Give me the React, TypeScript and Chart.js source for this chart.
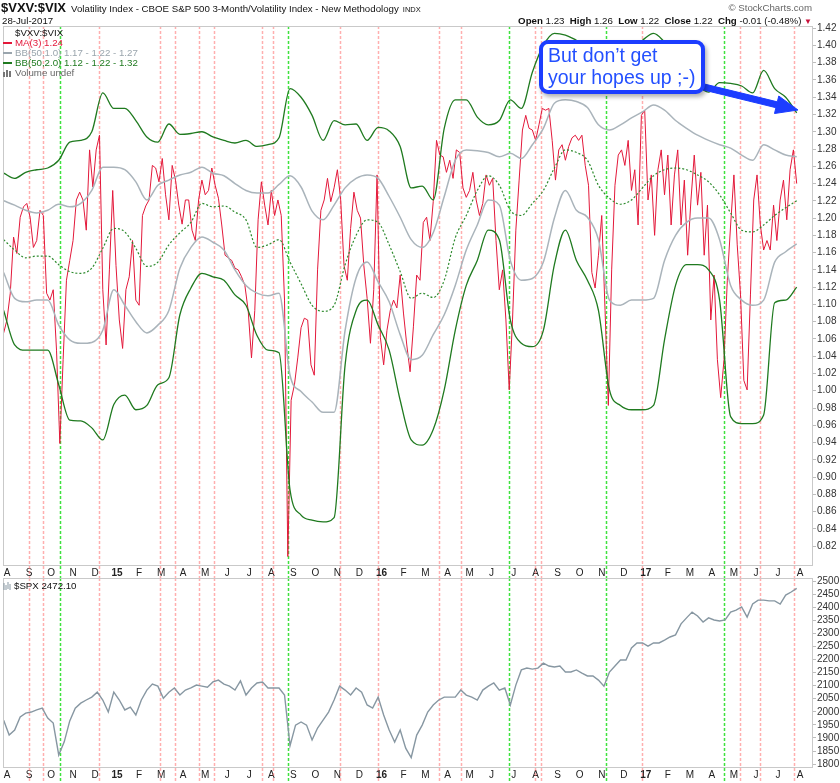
import React, { useEffect, useRef } from "react";
import { Chart, registerables } from "chart.js";
Chart.register(...registerables);

const FONT = "'Liberation Sans', Arial, sans-serif";

// Month tick labels, one per month from Aug 2014 to Aug 2017
const monthLabels = ["A","S","O","N","D","15","F","M","A","M","J","J","A","S","O","N","D","16","F","M","A","M","J","J","A","S","O","N","D","17","F","M","A","M","J","J","A"];
const vxvTicks = [0.82,0.84,0.86,0.88,0.90,0.92,0.94,0.96,0.98,1.00,1.02,1.04,1.06,1.08,1.10,1.12,1.14,1.16,1.18,1.20,1.22,1.24,1.26,1.28,1.30,1.32,1.34,1.36,1.38,1.40,1.42];
const spxTicks = [1800,1850,1900,1950,2000,2050,2100,2150,2200,2250,2300,2350,2400,2450,2500];

// Signal dates (vertical dashed markers)
const redSignalDates = ["2014-09-01","2014-09-20","2014-12-06","2015-02-28","2015-03-21","2015-04-22","2015-05-13","2015-07-19","2015-08-03","2015-11-05","2015-12-27","2016-03-20","2016-04-19","2016-07-31","2016-08-09","2016-12-26","2017-05-10","2017-06-07","2017-07-23"];
const greenSignalDates = ["2014-10-14","2015-08-24","2016-06-25","2016-11-07","2017-04-17"];

// Sampling: first sample ~ 28-Jul-2014 (in months after 1-Aug-2014)
const firstSampleMonth = -0.15;
const maStep = 0.15;
const spxStep = 0.25;
const bandStep = 0.5;

const vxvMa3 = [
1.067,1.082,1.113,1.178,1.159,1.201,1.213,1.217,1.201,1.166,
1.174,1.209,1.203,1.113,1.105,1.117,1.047,0.939,1.036,1.128,
1.151,1.174,1.221,1.230,1.221,1.186,1.279,1.236,1.279,1.296,
1.117,1.053,1.140,1.232,1.145,1.082,1.049,1.117,1.132,1.174,
1.105,1.099,1.203,1.214,1.221,1.261,1.258,1.242,1.269,1.227,
1.198,1.261,1.244,1.215,1.193,1.221,1.221,1.186,1.174,1.221,
1.244,1.227,1.232,1.258,1.238,1.223,1.192,1.157,1.154,1.151,
1.142,1.140,1.132,1.122,1.093,1.038,1.093,1.198,1.242,1.215,
1.192,1.232,1.203,1.221,1.203,1.105,0.808,0.989,1.007,1.038,
1.073,1.084,1.082,1.030,1.018,1.140,1.209,1.221,1.246,1.219,
1.235,1.256,1.221,1.145,1.128,1.188,1.230,1.209,1.200,1.145,
1.107,1.055,1.117,1.250,1.062,1.030,1.070,1.093,1.105,1.096,
1.134,1.090,1.053,1.022,1.074,1.134,1.128,1.195,1.201,1.174,
1.219,1.290,1.273,1.271,1.253,1.267,1.246,1.279,1.276,1.235,
1.224,1.232,1.253,1.221,1.203,1.217,1.250,1.238,1.246,1.174,
1.117,1.140,1.082,1.001,1.082,1.186,1.244,1.302,1.319,1.304,
1.302,1.290,1.308,1.327,1.325,1.327,1.290,1.244,1.279,1.285,
1.267,1.283,1.293,1.296,1.290,1.296,1.261,1.238,1.137,1.119,
1.157,1.203,1.093,0.983,1.140,1.238,1.273,1.279,1.261,1.290,
1.232,1.256,1.192,1.319,1.325,1.221,1.250,1.180,1.256,1.279,
1.227,1.273,1.192,1.250,1.279,1.192,1.244,1.157,1.221,1.273,
1.215,1.253,1.157,1.215,1.082,1.134,1.036,0.992,1.036,1.128,
1.192,1.250,1.169,1.111,1.012,1.001,1.111,1.221,1.250,1.192,
1.163,1.174,1.163,1.215,1.174,1.221,1.244,1.198,1.256,1.279,
1.240];

const bbUpper2 = [
1.252,1.246,1.253,1.256,1.258,1.267,1.288,1.290,1.300,1.345,
1.327,1.327,1.313,1.294,1.288,1.309,1.297,1.298,1.300,1.294,
1.290,1.287,1.290,1.283,1.285,1.293,1.350,1.340,1.319,1.290,
1.313,1.308,1.309,1.290,1.305,1.301,1.283,1.235,1.237,1.221,
1.304,1.337,1.337,1.317,1.308,1.313,1.337,1.327,1.369,1.400,
1.414,1.412,1.406,1.400,1.395,1.383,1.389,1.397,1.406,1.414,
1.404,1.389,1.371,1.354,1.346,1.357,1.356,1.353,1.345,1.371,
1.350,1.340,1.322];

const bbUpper1 = [
1.220,1.215,1.209,1.206,1.209,1.216,1.213,1.217,1.232,1.259,
1.259,1.256,1.242,1.221,1.238,1.244,1.250,1.253,1.259,1.252,
1.249,1.240,1.232,1.229,1.229,1.239,1.249,1.236,1.208,1.198,
1.215,1.235,1.246,1.250,1.246,1.225,1.201,1.175,1.166,1.183,
1.225,1.267,1.279,1.278,1.276,1.271,1.275,1.269,1.285,1.304,
1.333,1.337,1.335,1.328,1.308,1.302,1.308,1.316,1.323,1.331,
1.325,1.313,1.304,1.296,1.290,1.285,1.281,1.273,1.267,1.285,
1.279,1.273,1.271];

const bbMid = [
1.175,1.163,1.154,1.156,1.156,1.146,1.138,1.136,1.142,1.165,
1.188,1.184,1.165,1.144,1.149,1.169,1.183,1.195,1.217,1.213,
1.214,1.207,1.198,1.166,1.169,1.175,1.149,1.124,1.099,1.092,
1.099,1.146,1.180,1.198,1.195,1.169,1.138,1.107,1.113,1.108,
1.128,1.177,1.203,1.232,1.249,1.238,1.209,1.203,1.217,1.232,
1.258,1.279,1.276,1.267,1.238,1.223,1.216,1.221,1.235,1.249,
1.256,1.258,1.256,1.250,1.242,1.227,1.206,1.186,1.184,1.192,
1.203,1.212,1.220];

const bbLower1 = [
1.137,1.107,1.103,1.105,1.105,1.076,1.059,1.055,1.056,1.070,
1.117,1.099,1.080,1.067,1.076,1.093,1.142,1.166,1.178,1.172,
1.163,1.140,1.122,1.113,1.110,1.113,1.018,0.999,0.987,0.975,
0.975,1.070,1.131,1.149,1.126,1.103,1.065,1.036,1.041,1.065,
1.088,1.122,1.163,1.192,1.221,1.215,1.151,1.128,1.130,1.149,
1.200,1.232,1.209,1.201,1.175,1.105,1.099,1.105,1.105,1.107,
1.151,1.180,1.195,1.200,1.200,1.175,1.122,1.105,1.099,1.105,
1.149,1.161,1.170];

const bbLower2 = [
1.093,1.053,1.047,1.047,1.047,1.007,0.966,0.965,0.957,0.943,
0.984,0.995,0.978,0.983,1.007,1.015,1.088,1.119,1.136,1.132,
1.128,1.111,1.099,1.064,1.047,1.044,0.885,0.856,0.850,0.848,
0.853,1.030,1.093,1.105,1.076,1.047,0.989,0.943,0.937,0.955,
1.001,1.070,1.122,1.151,1.186,1.175,1.082,1.055,1.051,1.070,
1.146,1.186,1.151,1.128,1.093,1.001,0.983,0.978,0.978,0.983,
1.059,1.122,1.146,1.146,1.140,1.105,0.970,0.962,0.962,0.972,
1.102,1.105,1.120];

const spxClose = [
1968,1911,1930,1980,1995,1999,2007,2014,1976,1957,
1835,1885,1965,2014,2033,2045,2056,2075,2045,1999,
2075,2045,2007,2018,1988,2045,2083,2106,2098,2052,
2075,2091,2064,2083,2091,2102,2098,2094,2114,2121,
2106,2098,2083,2118,2064,2091,2110,2114,2091,2091,
2091,2064,1870,1949,1961,1949,1892,1938,1968,1999,
2045,2098,2083,2064,2091,2075,2026,2014,2056,1988,
1930,1884,1930,1861,1825,1911,1949,1999,2026,2045,
2056,2056,2056,2083,2064,2056,2045,2083,2098,2110,
2083,2091,2026,2102,2160,2167,2163,2167,2186,2175,
2171,2175,2152,2152,2160,2148,2137,2137,2121,2098,
2152,2175,2198,2198,2244,2263,2263,2251,2263,2263,
2274,2286,2294,2336,2359,2381,2366,2343,2359,2351,
2347,2351,2381,2389,2401,2362,2412,2427,2427,2424,
2424,2412,2446,2458,2472];

function daysInMonth(y: number, m: number) {
  return new Date(y, m, 0).getDate();
}
function monthPos(date: string) {
  const [y, m, d] = date.split("-").map(Number);
  return (y - 2014) * 12 + (m - 8) + (d - 1) / daysInMonth(y, m);
}
function toPoints(values: number[], step: number) {
  return values.map((v, i) => ({ x: firstSampleMonth + i * step, y: v }));
}

const X_MIN = -0.18;
const X_MAX = 36.59;

const signalLines = {
  id: "signalLines",
  beforeDatasetsDraw(chart: any) {
    const { ctx, chartArea, scales } = chart;
    const x = scales.x;
    ctx.save();
    ctx.lineWidth = 1.5;
    ctx.setLineDash([3, 2]);
    const groups: [string[], string][] = [
      [redSignalDates, "rgba(255,110,110,0.55)"],
      [greenSignalDates, "#3ee23e"],
    ];
    for (const [dates, color] of groups) {
      ctx.strokeStyle = color;
      for (const d of dates) {
        const px = Math.round(x.getPixelForValue(monthPos(d))) + 0.5;
        ctx.beginPath();
        ctx.moveTo(px, chartArea.top);
        ctx.lineTo(px, chart.height);
        ctx.stroke();
      }
    }
    ctx.restore();
  },
};

const frame = {
  id: "frame",
  afterDatasetsDraw(chart: any) {
    const { ctx, chartArea } = chart;
    ctx.save();
    ctx.strokeStyle = "#c9c9c9";
    ctx.lineWidth = 1;
    ctx.strokeRect(
      Math.round(chartArea.left) + 0.5,
      Math.round(chartArea.top) + 0.5,
      Math.round(chartArea.right - chartArea.left) - 1,
      Math.round(chartArea.bottom - chartArea.top) - 1
    );
    ctx.restore();
  },
};

function xScale() {
  return {
    type: "linear",
    min: X_MIN,
    max: X_MAX,
    afterBuildTicks: (s: any) => {
      s.ticks = monthLabels.map((_, i) => ({ value: i }));
    },
    afterFit: (s: any) => {
      s.height = 12;
    },
    grid: { display: false, drawTicks: false },
    border: { display: false },
    ticks: {
      autoSkip: false,
      maxRotation: 0,
      minRotation: 0,
      padding: 1,
      color: "#222",
      font: (c: any) => ({
        family: FONT,
        size: 10,
        weight: /\d/.test(monthLabels[c.index] || "") ? "bold" : "normal",
      }),
      callback: (_v: any, i: number) => monthLabels[i],
    },
  };
}

function yScale(min: number, max: number, ticks: number[], fmt: (v: number) => string) {
  return {
    position: "right",
    min,
    max,
    afterBuildTicks: (s: any) => {
      s.ticks = ticks.map((v) => ({ value: v }));
    },
    afterFit: (s: any) => {
      s.width = 27;
    },
    grid: { drawOnChartArea: false, drawTicks: true, tickLength: 3, color: "#bdbdbd" },
    border: { display: false },
    ticks: {
      autoSkip: false,
      padding: 1,
      color: "#333",
      font: { family: FONT, size: 10 },
      callback: (v: any) => fmt(Number(v)),
    },
  };
}

const line = (data: any, color: string, width: number, extra: any = {}) => ({
  data,
  borderColor: color,
  borderWidth: width,
  pointRadius: 0,
  fill: false,
  tension: 0,
  ...extra,
});

const smooth = { cubicInterpolationMode: "monotone" };

export default function App() {
  const topRef = useRef<HTMLCanvasElement>(null);
  const botRef = useRef<HTMLCanvasElement>(null);

  useEffect(() => {
    const top = new Chart(topRef.current as HTMLCanvasElement, {
      type: "line",
      data: {
        datasets: [
          line(toPoints(bbUpper1, bandStep), "#aab4bb", 1.5, smooth),
          line(toPoints(bbLower1, bandStep), "#aab4bb", 1.5, smooth),
          line(toPoints(bbUpper2, bandStep), "#1f7a1f", 1.3, smooth),
          line(toPoints(bbLower2, bandStep), "#1f7a1f", 1.3, smooth),
          line(toPoints(bbMid, bandStep), "#2e8b2e", 1.2, { ...smooth, borderDash: [2, 2] }),
          line(toPoints(vxvMa3, maStep), "#e3183a", 1),
        ],
      },
      options: {
        animation: false,
        responsive: false,
        maintainAspectRatio: false,
        layout: { padding: { left: 3, top: 26, right: 0, bottom: 0 } },
        plugins: { legend: { display: false }, tooltip: { enabled: false } },
        scales: {
          x: xScale() as any,
          y: yScale(0.797, 1.4225, vxvTicks, (v) => v.toFixed(2)) as any,
        },
      },
      plugins: [signalLines, frame],
    } as any);

    const bot = new Chart(botRef.current as HTMLCanvasElement, {
      type: "line",
      data: {
        datasets: [line(toPoints(spxClose, spxStep), "#8797a2", 1.4)],
      },
      options: {
        animation: false,
        responsive: false,
        maintainAspectRatio: false,
        layout: { padding: { left: 3, top: 10, right: 0, bottom: 3 } },
        plugins: { legend: { display: false }, tooltip: { enabled: false } },
        scales: {
          x: xScale() as any,
          y: yScale(1785, 2511.5, spxTicks, (v) => String(Math.round(v))) as any,
        },
      },
      plugins: [signalLines, frame],
    } as any);

    return () => {
      top.destroy();
      bot.destroy();
    };
  }, []);

  // arrow geometry for the annotation
  const S = [704, 87];
  const T = [798, 110];
  const len = Math.hypot(T[0] - S[0], T[1] - S[1]);
  const d = [(T[0] - S[0]) / len, (T[1] - S[1]) / len];
  const n = [-d[1], d[0]];
  const B = [T[0] - 22 * d[0], T[1] - 22 * d[1]];
  const pt = (p: number[], k: number) => `${p[0] + k * n[0]},${p[1] + k * n[1]}`;
  const arrowPts = [pt(S, -3), pt(B, -3), pt(B, -9), `${T[0]},${T[1]}`, pt(B, 9), pt(B, 3), pt(S, 3)].join(" ");

  const small: React.CSSProperties = { fontSize: 9.7, lineHeight: "10px", whiteSpace: "nowrap" };

  return (
    <div
      style={{
        position: "absolute",
        left: 0,
        top: 0,
        width: 840,
        height: 783,
        background: "#fff",
        overflow: "hidden",
        fontFamily: FONT,
        color: "#111",
      }}
    >
      <canvas ref={topRef} width={840} height={578} style={{ position: "absolute", left: 0, top: 0 }} />
      <canvas ref={botRef} width={840} height={215} style={{ position: "absolute", left: 0, top: 568 }} />

      {/* header */}
      <div style={{ position: "absolute", left: 1, top: 0, display: "flex", alignItems: "baseline", whiteSpace: "nowrap" }}>
        <span style={{ fontWeight: "bold", fontSize: 13 }}>$VXV:$VIX</span>
        <span style={{ fontSize: 9.7, marginLeft: 5 }}>Volatility Index - CBOE S&amp;P 500 3-Month/Volatility Index - New Methodology</span>
        <span style={{ fontSize: 7.5, marginLeft: 4 }}>INDX</span>
      </div>
      <div style={{ ...small, position: "absolute", left: 2, top: 16 }}>28-Jul-2017</div>
      <div style={{ ...small, position: "absolute", right: 28, top: 3, color: "#666" }}>© StockCharts.com</div>
      <div style={{ ...small, position: "absolute", right: 28, top: 16 }}>
        <b>Open</b> 1.23 &nbsp;<b>High</b> 1.26 &nbsp;<b>Low</b> 1.22 &nbsp;<b>Close</b> 1.22 &nbsp;<b>Chg</b> -0.01 (-0.48%){" "}
        <span style={{ color: "#c8103a", fontSize: 8 }}>▼</span>
      </div>

      {/* top panel legend */}
      <div style={{ position: "absolute", left: 3, top: 28 }}>
        <div style={{ ...small, paddingLeft: 12, color: "#111" }}>$VXV:$VIX</div>
        <div style={{ ...small, color: "#e3183a", display: "flex", alignItems: "center" }}>
          <span style={{ display: "inline-block", width: 9, height: 2, background: "#e3183a", marginRight: 3 }} />MA(3) 1.24
        </div>
        <div style={{ ...small, color: "#9aa5ad", display: "flex", alignItems: "center" }}>
          <span style={{ display: "inline-block", width: 9, height: 2, background: "#9aa5ad", marginRight: 3 }} />BB(50,1.0) 1.17 - 1.22 - 1.27
        </div>
        <div style={{ ...small, color: "#1f7a1f", display: "flex", alignItems: "center" }}>
          <span style={{ display: "inline-block", width: 9, height: 2, background: "#1f7a1f", marginRight: 3 }} />BB(50,2.0) 1.12 - 1.22 - 1.32
        </div>
        <div style={{ ...small, color: "#666", display: "flex", alignItems: "center" }}>
          <svg width="9" height="8" style={{ marginRight: 3 }}>
            <rect x="0" y="3" width="2" height="5" fill="#777" />
            <rect x="3" y="1" width="2" height="7" fill="#777" />
            <rect x="6" y="2" width="2" height="6" fill="#777" />
          </svg>
          Volume undef
        </div>
      </div>

      {/* bottom panel legend */}
      <div style={{ ...small, position: "absolute", left: 3, top: 581, display: "flex", alignItems: "center" }}>
        <svg width="8" height="9" style={{ marginRight: 3 }}>
          <path d="M1 1v7M3 3v5M5 0v7M7 2v6" stroke="#8797a2" strokeWidth="1" />
        </svg>
        $SPX 2472.10
      </div>

      {/* annotation */}
      <svg width={840} height={783} style={{ position: "absolute", left: 0, top: 0, pointerEvents: "none" }}>
        <polygon points={arrowPts} fill="#1c3dff" stroke="#1c3dff" strokeWidth="1" strokeLinejoin="round" />
      </svg>
      <div
        style={{
          position: "absolute",
          left: 539,
          top: 40,
          width: 166,
          height: 54,
          boxSizing: "border-box",
          border: "4px solid #1c3dff",
          borderRadius: 9,
          background: "#fff",
          boxShadow: "2px 3px 4px rgba(0,0,0,0.3)",
          color: "#2450ff",
          fontSize: 19.5,
          lineHeight: "22px",
          padding: "0 0 0 5px",
          whiteSpace: "nowrap",
        }}
      >
        But don’t get
        <br />
        your hopes up ;-)
      </div>
    </div>
  );
}
